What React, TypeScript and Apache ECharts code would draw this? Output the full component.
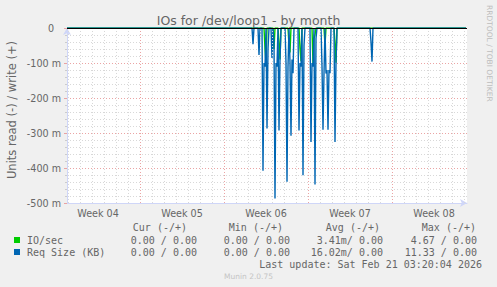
import React, { useEffect, useRef } from "react";
import * as echarts from "echarts";

// ---- data ----
const SAMPLE_HOURS = 2;
const SAMPLE_COUNT = 400;

const weekLabels = ["Week 04", "Week 05", "Week 06", "Week 07", "Week 08"];
const weekMidHours = [62, 230, 398, 566, 734];
const weekStartHours = [146, 314, 482, 650];
const firstDayLineHour = 2;

// IO/sec read (negative, milli-units), by sample index
const ioIdx = [198, 199, 207, 212, 213, 222, 223, 233, 234, 246, 247, 248, 258, 268, 269];
const ioVal = [-60, -100, -60, -40, -90, -50, -70, -60, -95, -104, -30, -20, -50, -40, -99];

// Req Size (KB) read (negative, milli-units), by sample index
const reqIdx = [
  186, 192, 196, 197, 198, 200, 201, 205, 207, 208, 209, 210, 212, 213, 219, 220, 221, 223,
  224, 225, 226, 232, 233, 234, 236, 237, 244, 245, 246, 248, 249, 255, 256, 257, 259, 260,
  261, 262, 263, 268, 269, 304, 305,
];
const reqVal = [
  -46, -77, -408, -100, -110, -287, -60, -86, -40, -487, -100, -110, -293, -90, -100, -439, -110, -100,
  -308, -90, -129, -293, -100, -110, -421, -50, -326, -100, -110, -447, -30, -110, -291, -130, -130, -120,
  -291, -120, -129, -326, -100, -40, -96,
];

const legendNames = ["IO/sec", "Req Size (KB)"];
const legendHeaders = ["Cur (-/+)", "Min (-/+)", "Avg (-/+)", "Max (-/+)"];
const curVals = ["0.00 / 0.00", "0.00 / 0.00"];
const minVals = ["0.00 / 0.00", "0.00 / 0.00"];
const avgVals = ["3.41m/ 0.00", "16.02m/ 0.00"];
const maxVals = ["4.67 / 0.00", "11.33 / 0.00"];
const lastUpdate = "Last update: Sat Feb 21 03:20:04 2026";
const titleText = "IOs for /dev/loop1 - by month";
const yAxisTitle = "Units read (-) / write (+)";
const sideText = "RRDTOOL / TOBI OETIKER";
const footerText = "Munin 2.0.75";

// ---- helpers ----
function buildSeries(idx: number[], vals: number[]) {
  const arr = new Array(SAMPLE_COUNT).fill(0);
  idx.forEach((i, k) => {
    arr[i] = vals[k];
  });
  return arr.map((v, i) => [i * SAMPLE_HOURS, v]);
}

const GREEN = "#00CC00";
const BLUE = "#0066B3";
const FONT_COLOR = "#666666";
const AXIS_COLOR = "#CFD6F8";
const MONO = '"DejaVu Sans Mono", monospace';
const SANS = '"DejaVu Sans", sans-serif';

export default function App() {
  const ref = useRef<HTMLDivElement>(null);

  useEffect(() => {
    document.body.style.margin = "0";
    const chart = echarts.init(ref.current!, null, { renderer: "svg" });

    const maxHour = SAMPLE_COUNT * SAMPLE_HOURS;
    const dayLines: number[] = [];
    for (let h = firstDayLineHour; h < maxHour; h += 24) {
      if (!weekStartHours.includes(h)) dayLines.push(h);
    }

    const colRightHeader = [187, 283, 380, 476];
    const colRightVal = [197, 290, 383, 477];
    const rowsY = [240, 252];
    const colors = [GREEN, BLUE];
    const statCols = [curVals, minVals, avgVals, maxVals];

    const graphic: any[] = [
      {
        type: "text",
        x: 248.5,
        y: 20,
        style: { text: titleText, fill: FONT_COLOR, font: `12.5px ${SANS}`, textAlign: "center", textVerticalAlign: "middle" },
      },
      {
        type: "text",
        x: 12,
        y: 110,
        rotation: Math.PI / 2,
        style: { text: yAxisTitle, fill: FONT_COLOR, font: `11.5px ${SANS}`, textAlign: "center", textVerticalAlign: "middle" },
      },
      {
        type: "text",
        x: 489,
        y: 5,
        rotation: -Math.PI / 2,
        style: { text: sideText, fill: "#bdbdbd", font: `7.5px ${SANS}`, textAlign: "left", textVerticalAlign: "middle" },
      },
      {
        type: "text",
        x: 248.5,
        y: 276,
        style: { text: footerText, fill: "#c4c4c4", font: `7.5px ${SANS}`, textAlign: "center", textVerticalAlign: "middle" },
      },
      {
        type: "text",
        x: 482,
        y: 264,
        style: { text: lastUpdate, fill: FONT_COLOR, font: `10px ${MONO}`, textAlign: "right", textVerticalAlign: "middle" },
      },
    ];
    legendHeaders.forEach((h, c) => {
      graphic.push({
        type: "text",
        x: colRightHeader[c],
        y: 227,
        style: { text: h, fill: FONT_COLOR, font: `10px ${MONO}`, textAlign: "right", textVerticalAlign: "middle" },
      });
    });
    legendNames.forEach((name, r) => {
      graphic.push({
        type: "rect",
        shape: { x: 14, y: rowsY[r] - 3, width: 6, height: 6 },
        style: { fill: colors[r] },
      });
      graphic.push({
        type: "text",
        x: 27,
        y: rowsY[r],
        style: { text: name, fill: FONT_COLOR, font: `10px ${MONO}`, textAlign: "left", textVerticalAlign: "middle" },
      });
      statCols.forEach((col, c) => {
        graphic.push({
          type: "text",
          x: colRightVal[c],
          y: rowsY[r],
          style: { text: col[r], fill: FONT_COLOR, font: `10px ${MONO}`, textAlign: "right", textVerticalAlign: "middle" },
        });
      });
    });

    const option: any = {
      animation: false,
      backgroundColor: "#F0F0F0",
      grid: { left: 67, top: 28, width: 400, height: 175, containLabel: false, backgroundColor: "#FFFFFF", show: true, borderWidth: 0 },
      xAxis: {
        type: "value",
        min: 0,
        max: maxHour,
        axisLine: {
          show: true,
          onZero: false,
          symbol: ["none", "arrow"],
          symbolSize: [6, 7],
          lineStyle: { color: AXIS_COLOR, width: 1 },
        },
        axisTick: { show: false },
        splitLine: { show: false },
        axisLabel: {
          customValues: weekMidHours,
          formatter: (v: number) => {
            const i = weekMidHours.indexOf(v);
            return i >= 0 ? weekLabels[i] : "";
          },
          color: FONT_COLOR,
          fontFamily: SANS,
          fontSize: 9.6,
          margin: 5,
        },
      },
      yAxis: {
        type: "value",
        min: -500,
        max: 0,
        interval: 100,
        axisLine: {
          show: true,
          symbol: ["none", "arrow"],
          symbolSize: [6, 7],
          lineStyle: { color: AXIS_COLOR, width: 1 },
        },
        axisTick: { show: true, length: 3, lineStyle: { color: "#e9a3a3" } },
        minorTick: { show: true, splitNumber: 5, length: 2, lineStyle: { color: "#cccccc" } },
        axisLabel: {
          formatter: (v: number) => (v === 0 ? "{z|0}" : `${v} m`),
          rich: { z: { padding: [0, 7, 0, 0], color: FONT_COLOR, fontFamily: SANS, fontSize: 9.6 } },
          color: FONT_COLOR,
          fontFamily: SANS,
          fontSize: 9.6,
          margin: 6,
        },
        splitLine: { show: true, lineStyle: { color: "#eba4a4", type: [1, 2], width: 1 } },
        minorSplitLine: { show: true, lineStyle: { color: "#d8d8d8", type: [1, 2], width: 1 } },
      },
      graphic,
      series: [
        {
          type: "line",
          data: [],
          z: 1,
          silent: true,
          markLine: {
            silent: true,
            symbol: ["none", "none"],
            label: { show: false },
            emphasis: { disabled: true },
            animation: false,
            data: [
              ...dayLines.map((h) => ({ xAxis: h, lineStyle: { color: "#d8d8d8", type: [1, 2], width: 1 } })),
              ...weekStartHours.map((h) => ({ xAxis: h, lineStyle: { color: "#eba4a4", type: [1, 2], width: 1 } })),
            ],
          },
        },
        {
          name: legendNames[0],
          type: "line",
          data: buildSeries(ioIdx, ioVal),
          showSymbol: false,
          symbol: "none",
          lineStyle: { color: GREEN, width: 1.4 },
          z: 3,
          silent: true,
        },
        {
          name: legendNames[1],
          type: "line",
          data: buildSeries(reqIdx, reqVal),
          showSymbol: false,
          symbol: "none",
          lineStyle: { color: BLUE, width: 1.4 },
          z: 4,
          silent: true,
        },
        {
          type: "line",
          data: [],
          z: 5,
          silent: true,
          markLine: {
            silent: true,
            symbol: ["none", "none"],
            label: { show: false },
            emphasis: { disabled: true },
            animation: false,
            data: [{ yAxis: 0, lineStyle: { color: "#000000", type: "solid", width: 1.2 } }],
          },
        },
      ],
    };

    chart.setOption(option);
    return () => chart.dispose();
  }, []);

  return <div ref={ref} style={{ position: "fixed", left: 0, top: 0, width: 497, height: 287 }} />;
}
